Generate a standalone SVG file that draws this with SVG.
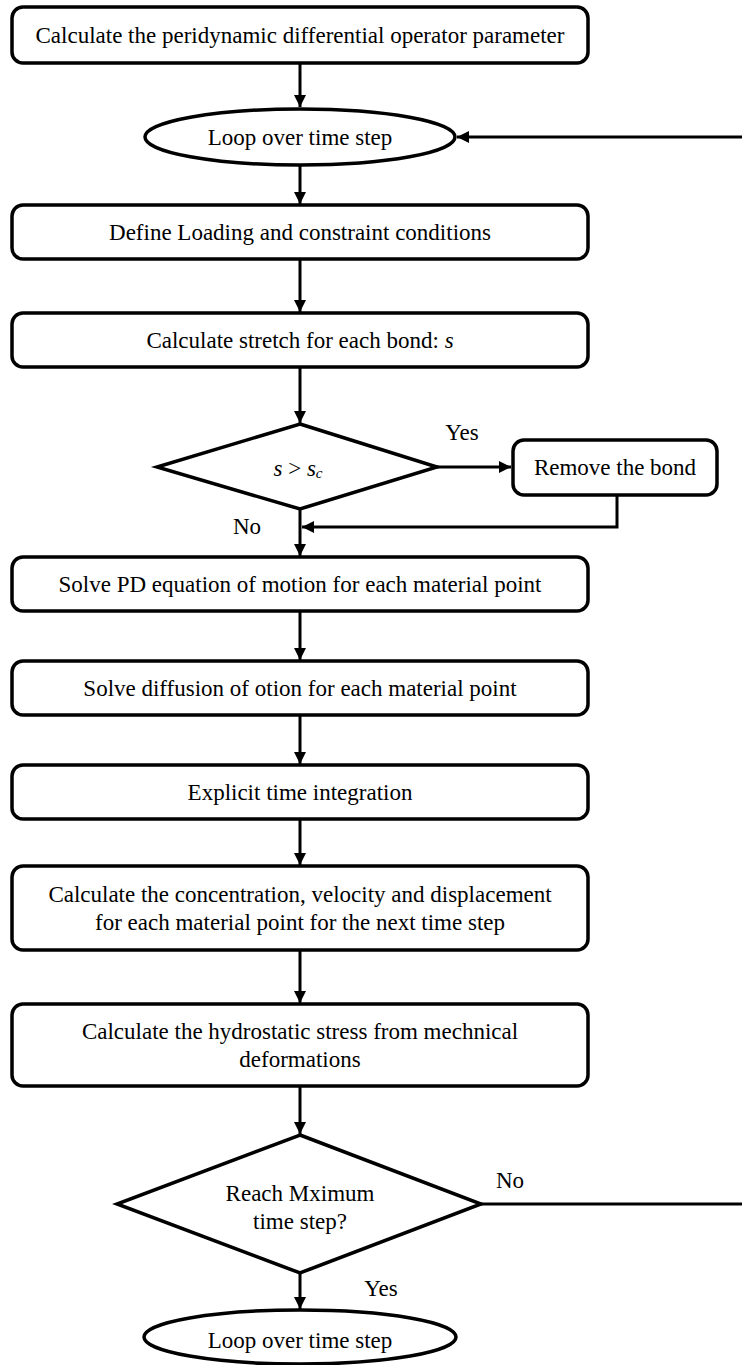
<svg xmlns="http://www.w3.org/2000/svg" width="742" height="1365" viewBox="0 0 742 1365">
  <style>
    .box { fill: #fff; stroke: #000; stroke-width: 3.5; }
    .lbl { font-family: 'Liberation Serif', 'Times New Roman', serif; font-size: 23px; fill: #000; text-anchor: middle; dominant-baseline: central; }
    .math { font-style: italic; }
    .wire { fill: none; stroke: #000; stroke-width: 3; }
  </style>
  <defs>
    <marker id="arrow" viewBox="0 0 10 10" refX="10" refY="5" markerWidth="4" markerHeight="4" markerUnits="strokeWidth" orient="auto">
      <path d="M0,0 L10,5 L0,10 Z" fill="#000"/>
    </marker>
  </defs>
  <rect width="742" height="1365" fill="#fff"/>

  <!-- connectors and their labels -->
  <g id="connectors">
    <line class="wire" x1="300" y1="63" x2="300" y2="107" marker-end="url(#arrow)"/>
    <line class="wire" x1="742" y1="137" x2="457" y2="137" marker-end="url(#arrow)"/>
    <line class="wire" x1="300" y1="166" x2="300" y2="204" marker-end="url(#arrow)"/>
    <line class="wire" x1="300" y1="259" x2="300" y2="312" marker-end="url(#arrow)"/>
    <line class="wire" x1="300" y1="367" x2="300" y2="423" marker-end="url(#arrow)"/>
    <line class="wire" x1="437" y1="467" x2="511" y2="467" marker-end="url(#arrow)"/>
    <polyline class="wire" points="617,495 617,527 302,527" marker-end="url(#arrow)"/>
    <line class="wire" x1="300" y1="509" x2="300" y2="556" marker-end="url(#arrow)"/>
    <line class="wire" x1="300" y1="611" x2="300" y2="660" marker-end="url(#arrow)"/>
    <line class="wire" x1="300" y1="715" x2="300" y2="764" marker-end="url(#arrow)"/>
    <line class="wire" x1="300" y1="819" x2="300" y2="865" marker-end="url(#arrow)"/>
    <line class="wire" x1="300" y1="950" x2="300" y2="1003" marker-end="url(#arrow)"/>
    <line class="wire" x1="300" y1="1086" x2="300" y2="1134" marker-end="url(#arrow)"/>
    <line class="wire" x1="481" y1="1204" x2="742" y2="1204"/>
    <line class="wire" x1="300" y1="1273" x2="300" y2="1309" marker-end="url(#arrow)"/>
    <text class="lbl" x="462" y="432">Yes</text>
    <text class="lbl" x="247" y="526">No</text>
    <text class="lbl" x="510" y="1180">No</text>
    <text class="lbl" x="381" y="1288">Yes</text>
  </g>

  <g id="n-operator">
    <rect class="box" x="12" y="7" width="576" height="56" rx="11"/>
    <text class="lbl" x="300" y="35">Calculate the peridynamic differential operator parameter</text>
  </g>
  <g id="n-loop-top">
    <ellipse class="box" cx="300" cy="137" rx="155" ry="28"/>
    <text class="lbl" x="300" y="137">Loop over time step</text>
  </g>
  <g id="n-loading">
    <rect class="box" x="12" y="205" width="576" height="54" rx="11"/>
    <text class="lbl" x="300" y="232">Define Loading and constraint conditions</text>
  </g>
  <g id="n-stretch">
    <rect class="box" x="12" y="313" width="576" height="54" rx="11"/>
    <text class="lbl" x="300" y="340">Calculate stretch for each bond: <tspan class="math">s</tspan></text>
  </g>
  <g id="n-critical">
    <polygon class="box" points="300,424 437,467 300,509 157,467"/>
    <text class="lbl" x="298" y="468"><tspan class="math">s</tspan> &gt; <tspan class="math">s</tspan><tspan class="math" font-size="15" dy="5">c</tspan></text>
  </g>
  <g id="n-remove">
    <rect class="box" x="513" y="440" width="204" height="55" rx="11"/>
    <text class="lbl" x="615" y="467">Remove the bond</text>
  </g>
  <g id="n-motion">
    <rect class="box" x="12" y="557" width="576" height="54" rx="11"/>
    <text class="lbl" x="300" y="584">Solve PD equation of motion for each material point</text>
  </g>
  <g id="n-diffusion">
    <rect class="box" x="12" y="661" width="576" height="54" rx="11"/>
    <text class="lbl" x="300" y="688">Solve diffusion of otion for each material point</text>
  </g>
  <g id="n-integration">
    <rect class="box" x="12" y="765" width="576" height="54" rx="11"/>
    <text class="lbl" x="300" y="792">Explicit time integration</text>
  </g>
  <g id="n-update">
    <rect class="box" x="12" y="866" width="576" height="84" rx="11"/>
    <text class="lbl" x="300" y="894">Calculate the concentration, velocity and displacement</text>
    <text class="lbl" x="300" y="922">for each material point for the next time step</text>
  </g>
  <g id="n-stress">
    <rect class="box" x="12" y="1004" width="576" height="82" rx="11"/>
    <text class="lbl" x="300" y="1031">Calculate the hydrostatic stress from mechnical</text>
    <text class="lbl" x="300" y="1059">deformations</text>
  </g>
  <g id="n-maxstep">
    <polygon class="box" points="300,1135 481,1204 300,1273 117,1204"/>
    <text class="lbl" x="300" y="1193">Reach Mximum</text>
    <text class="lbl" x="300" y="1221">time step?</text>
  </g>
  <g id="n-loop-end">
    <ellipse class="box" cx="300" cy="1337" rx="156" ry="27"/>
    <text class="lbl" x="300" y="1340">Loop over time step</text>
  </g>
</svg>
